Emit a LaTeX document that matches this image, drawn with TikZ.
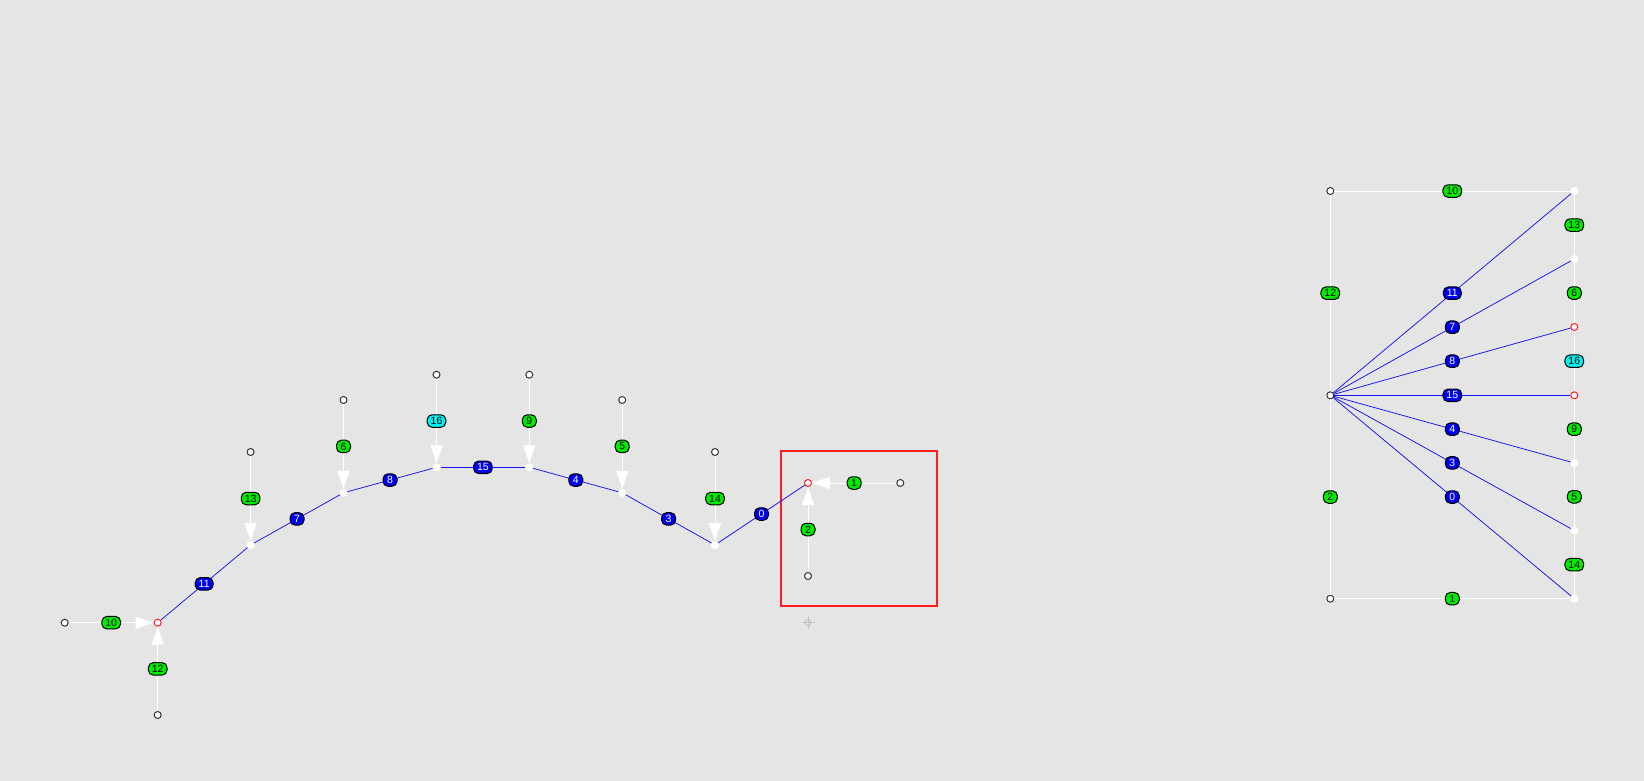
\documentclass[tikz,border=0pt]{standalone}
\usepackage{fontspec}
\setmainfont{Liberation Sans}
\usetikzlibrary{arrows.meta}
\definecolor{canvasgray}{RGB}{229,229,229}
\definecolor{framered}{RGB}{255,30,30}
\definecolor{markgray}{RGB}{195,195,195}
\definecolor{tagblue}{RGB}{0,0,240}
\definecolor{taggreen}{RGB}{0,235,0}
\definecolor{tagcyan}{RGB}{0,240,240}
\definecolor{edgeblue}{RGB}{20,20,240}

\begin{document}
\begin{tikzpicture}[x=1pt, y=-1pt, >={Triangle[length=18pt,width=12pt]}, line width=1pt,
  vertex/.style={circle, draw=black!80, fill=white, line width=1pt, inner sep=0pt, minimum size=7pt},
  hitvertex/.style={vertex, draw=framered},
  dotvertex/.style={vertex, draw=white},
  tag/.style={rectangle, rounded corners=5pt, draw=black, line width=1pt, inner xsep=3.5pt, inner ysep=0pt,
    minimum height=12.5pt, minimum width=14pt, font=\fontsize{10.5}{10.5}\selectfont},
  bluetag/.style={tag, fill=tagblue, text=white},
  greentag/.style={tag, fill=taggreen},
  cyantag/.style={tag, fill=tagcyan},
  blueedge/.style={draw=edgeblue, line width=0.75pt},
  whiteedge/.style={draw=white}]
\useasboundingbox (0,0) rectangle (1644,781);
\fill[canvasgray] (0,0) rectangle (1644,781);

% selection frame and cursor mark
\draw[framered, line width=2pt] (781,451) rectangle (937,606);
\draw[markgray] (801.5,622.5) -- (814.5,622.5);
\draw[markgray] (808,616) -- (808,629);
\draw[markgray] (808,622.5) circle (3);

% left drawing: vertices
\node[hitvertex] (a1) at (157.7,622.7) {};
\node[dotvertex] (a2) at (250.6,545) {};
\node[dotvertex] (a3) at (343.5,492.8) {};
\node[dotvertex] (a4) at (436.5,467.3) {};
\node[dotvertex] (a5) at (529.3,467.3) {};
\node[dotvertex] (a6) at (622.2,492.8) {};
\node[dotvertex] (a7) at (715,545) {};
\node[hitvertex] (a8) at (808,483) {};
\node[vertex] (t10) at (64.7,622.7) {};
\node[vertex] (t12) at (157.7,715) {};
\node[vertex] (t13) at (250.6,452) {};
\node[vertex] (t6) at (343.5,400) {};
\node[vertex] (t16) at (436.5,374.7) {};
\node[vertex] (t9) at (529.3,374.7) {};
\node[vertex] (t5) at (622.2,400) {};
\node[vertex] (t14) at (715,452) {};
\node[vertex] (t1) at (900.3,483) {};
\node[vertex] (t2) at (808,576) {};

% left drawing: path
\draw[blueedge] (a1) -- (a2) node[midway, bluetag] (la11) {11};
\draw[blueedge] (a2) -- (a3) node[midway, bluetag] (la7) {7};
\draw[blueedge] (a3) -- (a4) node[midway, bluetag] (la8) {8};
\draw[blueedge] (a4) -- (a5) node[midway, bluetag] (la15) {15};
\draw[blueedge] (a5) -- (a6) node[midway, bluetag] (la4) {4};
\draw[blueedge] (a6) -- (a7) node[midway, bluetag] (la3) {3};
\draw[blueedge] (a7) -- (a8) node[midway, bluetag] (la0) {0};

% left drawing: incoming edges
\draw[whiteedge, ->] (t10) -- (a1) node[midway, greentag] (la10) {10};
\draw[whiteedge, ->] (t12) -- (a1) node[midway, greentag] (la12) {12};
\draw[whiteedge, ->] (t13) -- (a2) node[midway, greentag] (la13) {13};
\draw[whiteedge, ->] (t6) -- (a3) node[midway, greentag] (la6) {6};
\draw[whiteedge, ->] (t16) -- (a4) node[midway, cyantag] (la16) {16};
\draw[whiteedge, ->] (t9) -- (a5) node[midway, greentag] (la9) {9};
\draw[whiteedge, ->] (t5) -- (a6) node[midway, greentag] (la5) {5};
\draw[whiteedge, ->] (t14) -- (a7) node[midway, greentag] (la14) {14};
\draw[whiteedge, ->] (t1) -- (a8) node[midway, greentag] (la1) {1};
\draw[whiteedge, ->] (t2) -- (a8) node[midway, greentag] (la2) {2};

% right drawing: vertices
\node[vertex] (b0) at (1330.3,395.3) {};
\node[vertex] (b1) at (1330.3,191) {};
\node[vertex] (b2) at (1330.3,598.7) {};
\node[dotvertex] (c1) at (1574.3,191) {};
\node[dotvertex] (c2) at (1574.3,259) {};
\node[hitvertex] (c3) at (1574.3,327) {};
\node[hitvertex] (c4) at (1574.3,395.3) {};
\node[dotvertex] (c5) at (1574.3,463) {};
\node[dotvertex] (c6) at (1574.3,530.5) {};
\node[dotvertex] (c7) at (1574.3,598.7) {};

% right drawing: frame
\draw[whiteedge] (b1) -- (c1) node[midway, greentag] (lb10) {10};
\draw[whiteedge] (b1) -- (b0) node[midway, greentag] (lb12) {12};
\draw[whiteedge] (b0) -- (b2) node[midway, greentag] (lb2) {2};
\draw[whiteedge] (b2) -- (c7) node[midway, greentag] (lb1) {1};
\draw[whiteedge] (c1) -- (c2) node[midway, greentag] (lb13) {13};
\draw[whiteedge] (c2) -- (c3) node[midway, greentag] (lb6) {6};
\draw[whiteedge] (c3) -- (c4) node[midway, cyantag] (lb16) {16};
\draw[whiteedge] (c4) -- (c5) node[midway, greentag] (lb9) {9};
\draw[whiteedge] (c5) -- (c6) node[midway, greentag] (lb5) {5};
\draw[whiteedge] (c6) -- (c7) node[midway, greentag] (lb14) {14};

% right drawing: fan
\draw[blueedge] (b0) -- (c1) node[midway, bluetag] (lb11) {11};
\draw[blueedge] (b0) -- (c2) node[midway, bluetag] (lb7) {7};
\draw[blueedge] (b0) -- (c3) node[midway, bluetag] (lb8) {8};
\draw[blueedge] (b0) -- (c4) node[midway, bluetag] (lb15) {15};
\draw[blueedge] (b0) -- (c5) node[midway, bluetag] (lb4) {4};
\draw[blueedge] (b0) -- (c6) node[midway, bluetag] (lb3) {3};
\draw[blueedge] (b0) -- (c7) node[midway, bluetag] (lb0) {0};
\end{tikzpicture}
\end{document}
